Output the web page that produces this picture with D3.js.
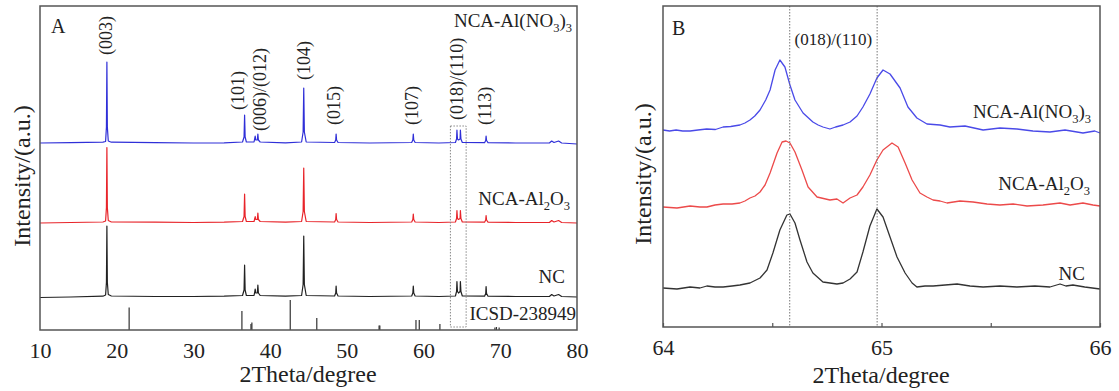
<!DOCTYPE html>
<html>
<head>
<meta charset="utf-8">
<script src="https://cdn.jsdelivr.net/npm/d3@7"></script>
<style>
  html, body { margin: 0; padding: 0; background: #fff; }
  svg { display: block; }
  text { font-family: "Liberation Serif", "Times New Roman", serif; fill: #222; }
</style>
</head>
<body>
<svg id="chart" width="1119" height="391"></svg>
<script>
// ---------------- DATA ----------------
// Panel A: full-range XRD patterns, [2theta, intensity above own baseline (a.u.)]
const seriesNames = ["NC", "NCA-Al2O3", "NCA-Al(NO3)3"];
const seriesOffsetsA = [33.5, 107.5, 187];

const patternNC = [[10,-1],[14,-0.5],[18.2,0.3],[18.55,1.5],[18.66,14],[18.72,70.5],[18.78,14],[18.9,2],[19.3,0.5],[25,0],[30,0],[34,0.3],[36.4,1],[36.6,6.5],[36.67,31.5],[36.74,6.5],[36.9,1],[37.9,1],[38.0,5],[38.05,7.5],[38.12,3.5],[38.33,3.5],[38.4,11.5],[38.47,3.5],[38.7,1],[42,0.3],[44.1,1],[44.3,12],[44.38,60.5],[44.46,12],[44.7,1],[48.4,0.5],[48.55,3.5],[48.6,10.5],[48.66,3.5],[48.85,0.5],[53,0],[58.45,0.5],[58.6,3.5],[58.66,10.5],[58.72,3.5],[58.9,0.5],[62,0],[64.15,0.5],[64.3,5],[64.35,15],[64.42,5],[64.55,3.5],[64.76,5],[64.8,15],[64.87,5],[65.05,0.5],[67.95,0.3],[68.1,3],[68.15,10],[68.21,3],[68.4,0.3],[72,0],[76.4,0],[76.7,2],[77.0,0.5],[77.6,2],[78,0],[80,-0.5]];

const patternAl2O3 = [[10,-0.5],[14,0],[18.2,0.5],[18.55,1.5],[18.66,15],[18.72,75],[18.78,15],[18.9,2],[19.3,0.5],[25,0.3],[30,0],[34,0.3],[36.4,1],[36.6,6],[36.67,28.5],[36.74,6],[36.9,1],[37.9,1],[38.0,4],[38.05,6],[38.12,3],[38.33,3],[38.4,9.5],[38.47,3],[38.7,1],[42,0.3],[44.1,1],[44.3,11],[44.38,54.5],[44.46,11],[44.7,1],[48.4,0.5],[48.55,3],[48.6,9],[48.66,3],[48.85,0.5],[53,0],[58.45,0.5],[58.6,3],[58.66,8.5],[58.72,3],[58.9,0.5],[62,0],[64.15,0.5],[64.3,4],[64.35,12],[64.42,4],[64.55,3],[64.76,4],[64.8,12],[64.87,4],[65.05,0.5],[67.95,0.3],[68.1,2.5],[68.15,7],[68.21,2.5],[68.4,0.3],[72,0],[76.4,0],[76.7,2],[77.0,0.5],[77.6,2],[78,0],[80,-0.5]];

const patternAlNO3 = [[10,0],[14,0.3],[18.2,0.8],[18.55,1.5],[18.66,16],[18.72,81],[18.78,16],[18.9,2],[19.3,0.8],[25,0.3],[30,0],[34,0.2],[36.4,1],[36.6,6],[36.67,28],[36.74,6],[36.9,1],[37.9,1],[38.0,5],[38.05,7],[38.12,3],[38.33,3],[38.4,9],[38.47,3],[38.7,1],[42,0.2],[44.1,1],[44.3,11],[44.38,55],[44.46,11],[44.7,1],[48.4,0.5],[48.55,3],[48.6,9],[48.66,3],[48.85,0.5],[53,0],[58.45,0.5],[58.6,3],[58.66,9],[58.72,3],[58.9,0.5],[62,0],[64.15,0.5],[64.3,4],[64.35,13],[64.42,4],[64.55,3],[64.76,4],[64.8,13],[64.87,4],[65.05,0.5],[67.95,0.3],[68.1,2.5],[68.15,7],[68.21,2.5],[68.4,0.3],[72,0],[76.4,0],[76.7,2],[77.0,0.5],[77.6,2],[78,0],[80,-1]];

// ICSD-238949 reference sticks: [2theta, relative intensity]
const icsdSticks = [[21.62,22.5],[36.32,19],[37.5,6],[37.62,7.5],[42.62,30],[46.08,12],[54.2,4.5],[54.3,4.5],[59.01,10],[59.44,10],[62.13,6],[69.3,2.5],[69.5,3],[69.85,2.5]];

// Miller indices labels for panel A
const hklLabels = ["(003)", "(101)", "(006)/(012)", "(104)", "(015)", "(107)", "(018)/(110)", "(113)"];
const hklPositions = [18.59, 35.83, 38.62, 44.41, 48.32, 58.47, 64.26, 67.96];

// Panel B: zoom 64-66 deg, [2theta, intensity (a.u.) incl. stacking]
const zoomNC = [[64.000,39],[64.064,38],[64.124,40],[64.169,39],[64.201,41],[64.238,40],[64.275,40],[64.316,41],[64.352,42],[64.398,44],[64.444,49],[64.476,57],[64.503,74],[64.535,97],[64.567,112],[64.581,113],[64.604,104],[64.627,87],[64.659,65],[64.686,54],[64.732,45],[64.764,44],[64.796,43],[64.824,44],[64.856,48],[64.888,55],[64.915,75],[64.947,101],[64.979,118],[65.007,110],[65.039,90],[65.071,70],[65.108,54],[65.14,44],[65.162,40],[65.199,41],[65.236,41],[65.291,42],[65.346,43],[65.405,41],[65.465,40],[65.542,41],[65.62,40],[65.702,41],[65.771,40],[65.817,43],[65.844,41],[65.876,42],[65.93,40],[66,38]];

const zoomAl2O3 = [[64.000,120],[64.064,119],[64.124,121],[64.169,120],[64.201,120],[64.238,122],[64.275,123],[64.316,123],[64.352,124],[64.375,126],[64.398,129],[64.421,131],[64.444,135],[64.467,142],[64.49,154],[64.522,174],[64.545,185],[64.563,186],[64.581,184],[64.604,175],[64.636,157],[64.664,140],[64.705,130],[64.764,127],[64.796,128],[64.824,124],[64.856,129],[64.888,132],[64.915,140],[64.947,152],[64.979,167],[65.007,177],[65.048,184],[65.076,180],[65.108,164],[65.14,147],[65.176,134],[65.208,130],[65.236,127],[65.268,126],[65.30,124],[65.359,126],[65.419,125],[65.483,123],[65.542,122],[65.602,123],[65.666,121],[65.739,122],[65.817,124],[65.863,122],[65.922,124],[65.968,122],[66,121]];

const zoomAlNO3 = [[64.000,197],[64.03,196],[64.06,197],[64.09,196],[64.124,196],[64.16,197],[64.20,198],[64.24,197.5],[64.275,200],[64.31,200.5],[64.352,202],[64.375,204],[64.398,207],[64.42,211],[64.444,217],[64.47,227],[64.49,237],[64.513,257],[64.535,267],[64.558,260],[64.581,242],[64.604,227],[64.641,214],[64.686,205],[64.71,202],[64.732,200],[64.764,198],[64.79,200],[64.824,202],[64.856,205],[64.888,211],[64.915,220],[64.947,233],[64.979,249],[65.007,257],[65.039,253],[65.085,239],[65.121,220],[65.162,209],[65.208,203],[65.268,202],[65.313,200],[65.382,201],[65.465,197],[65.542,199],[65.62,198],[65.693,196],[65.771,195],[65.84,197],[65.922,194],[65.976,196],[66,194]];

const refLines = [64.58, 64.98];       // dashed guide lines in B
const zoomBox = [63.5, 65.55, 3, 204]; // box in A marking the zoom window

const ticksA = [10, 20, 30, 40, 50, 60, 70, 80];
const ticksB = [64, 64.5, 65, 65.5, 66];

// ---------------- DRAWING ----------------
const svg = d3.select("#chart");
const colors = ["#222222", "#e8242a", "#2f2fd8"];
const colorsB = ["#333333", "#ec4a4a", "#4a4ae8"];
const frameColor = "#555";

// Panel A scales
const xA = d3.scaleLinear().domain([10, 80]).range([40, 577]);
const yA = d3.scaleLinear().domain([0, 324]).range([330, 6]);
// Panel B scales
const xB = d3.scaleLinear().domain([64, 66]).range([663, 1100]);
const yB = d3.scaleLinear().domain([0, 321]).range([327, 6]);

function richText(g, x, y, parts, size, anchor) {
  const t = g.append("text").attr("x", x).attr("y", y)
    .attr("font-size", size).attr("text-anchor", anchor || "end");
  let sub = false;
  parts.forEach(p => {
    const isSub = p[1] === 1;
    const ts = t.append("tspan").text(p[0]);
    if (isSub && !sub) ts.attr("dy", size * 0.28).attr("font-size", size * 0.66);
    else if (!isSub && sub) ts.attr("dy", -size * 0.28);
    else if (isSub) ts.attr("font-size", size * 0.66);
    sub = isSub;
  });
  return t;
}

// ----- Panel A -----
const gA = svg.append("g");
const lineA = (off) => d3.line().x(d => xA(d[0])).y(d => yA(d[1] + off));
[patternNC, patternAl2O3, patternAlNO3].forEach((s, i) => {
  gA.append("path").datum(s).attr("d", lineA(seriesOffsetsA[i]))
    .attr("fill", "none").attr("stroke", colors[i]).attr("stroke-width", 1.2)
    .attr("stroke-linejoin", "round");
});
// ICSD sticks
gA.selectAll("line.stick").data(icsdSticks).enter().append("line")
  .attr("x1", d => xA(d[0])).attr("x2", d => xA(d[0]))
  .attr("y1", yA(0)).attr("y2", d => yA(d[1]))
  .attr("stroke", "#333").attr("stroke-width", 1.2);
// zoom box
gA.append("rect")
  .attr("x", xA(zoomBox[0])).attr("y", yA(zoomBox[3]))
  .attr("width", xA(zoomBox[1]) - xA(zoomBox[0]))
  .attr("height", yA(zoomBox[2]) - yA(zoomBox[3]))
  .attr("fill", "none").attr("stroke", "#888").attr("stroke-width", 1)
  .attr("stroke-dasharray", "1.5,1.5");
// frame
gA.append("rect").attr("x", 40).attr("y", 6).attr("width", 537).attr("height", 324)
  .attr("fill", "none").attr("stroke", frameColor).attr("stroke-width", 1.5);
// axis
const axA = d3.axisBottom(xA).tickValues(ticksA).tickSize(0).tickPadding(12).tickFormat(d3.format("d"));
const axAg = gA.append("g").attr("transform", "translate(0,330)").call(axA);
axAg.select(".domain").remove();
axAg.selectAll("text").attr("font-size", 22).attr("font-family", "Liberation Serif, serif").attr("fill", "#222");
// hkl labels
const hklBottoms = [275, 220, 199, 250, 205, 205, 210, 205];
hklLabels.forEach((lab, i) => {
  const x = xA(hklPositions[i]), y = yA(hklBottoms[i]);
  gA.append("text").attr("transform", `translate(${x},${y}) rotate(-90)`)
    .attr("dy", "0.35em").attr("font-size", 18).attr("text-anchor", "start").text(lab);
});
// series labels A
richText(gA, 572, 27, [["NCA-Al(NO", 0], ["3", 1], [")", 0], ["3", 1]], 19);
richText(gA, 570, 205, [["NCA-Al", 0], ["2", 1], ["O", 0], ["3", 1]], 19);
richText(gA, 565, 283, [["NC", 0]], 19);
richText(gA, 576, 320, [["ICSD-238949", 0]], 19);
gA.append("text").attr("x", 51).attr("y", 33).attr("font-size", 20).text("A");
gA.append("text").attr("transform", "translate(30,176) rotate(-90)")
  .attr("text-anchor", "middle").attr("font-size", 24).text("Intensity/(a.u.)");
gA.append("text").attr("x", 308).attr("y", 382).attr("text-anchor", "middle")
  .attr("font-size", 24).text("2Theta/degree");

// ----- Panel B -----
const gB = svg.append("g");
const lineB = d3.line().x(d => xB(d[0])).y(d => yB(d[1]));
[zoomNC, zoomAl2O3, zoomAlNO3].forEach((s, i) => {
  gB.append("path").datum(s).attr("d", lineB)
    .attr("fill", "none").attr("stroke", colorsB[i]).attr("stroke-width", 1.3)
    .attr("stroke-linejoin", "round");
});
refLines.forEach(v => {
  gB.append("line").attr("x1", xB(v)).attr("x2", xB(v)).attr("y1", 6).attr("y2", 327)
    .attr("stroke", "#777").attr("stroke-width", 1).attr("stroke-dasharray", "1.5,1.5");
});
gB.append("rect").attr("x", 663).attr("y", 6).attr("width", 437).attr("height", 321)
  .attr("fill", "none").attr("stroke", frameColor).attr("stroke-width", 1.5);
const axB = d3.axisBottom(xB).tickValues(ticksB).tickSizeInner(-4).tickSizeOuter(0).tickPadding(12)
  .tickFormat(d => Number.isInteger(d) ? d3.format("d")(d) : "");
const axBg = gB.append("g").attr("transform", "translate(0,327)").call(axB);
axBg.select(".domain").remove();
axBg.selectAll("line").attr("stroke", frameColor).attr("stroke-width", 1.2);
axBg.selectAll("text").attr("font-size", 22).attr("font-family", "Liberation Serif, serif").attr("fill", "#222");
gB.append("text").attr("x", xB(d3.mean(refLines))).attr("y", 45).attr("text-anchor", "middle")
  .attr("font-size", 17).text("(018)/(110)");
richText(gB, 1091, 118, [["NCA-Al(NO", 0], ["3", 1], [")", 0], ["3", 1]], 19);
richText(gB, 1090, 190, [["NCA-Al", 0], ["2", 1], ["O", 0], ["3", 1]], 19);
richText(gB, 1085, 280, [["NC", 0]], 19);
gB.append("text").attr("x", 672).attr("y", 35).attr("font-size", 20).text("B");
gB.append("text").attr("transform", "translate(651,174) rotate(-90)")
  .attr("text-anchor", "middle").attr("font-size", 24).text("Intensity/(a.u.)");
gB.append("text").attr("x", 881).attr("y", 383).attr("text-anchor", "middle")
  .attr("font-size", 24).text("2Theta/degree");
</script>
</body>
</html>
